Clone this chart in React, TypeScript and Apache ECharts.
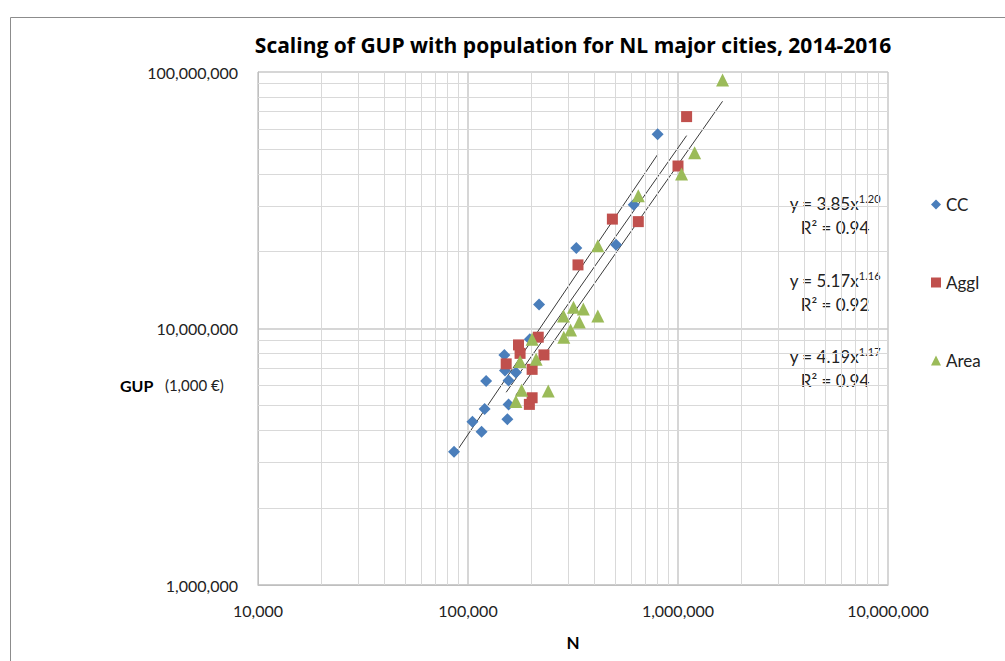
import React, { useEffect, useRef } from "react";
import * as echarts from "echarts";

// ---- data ----
const ccN = [85800, 105000, 116000, 120000, 122000, 149000, 150000, 154000, 156000, 156000, 169000, 197000, 218000, 328000, 507000, 615000, 800000];
const ccGUP = [3.31e6, 4.33e6, 3.96e6, 4.85e6, 6.24e6, 7.88e6, 6.86e6, 4.43e6, 5.06e6, 6.27e6, 6.73e6, 9.08e6, 12.4e6, 20.6e6, 21.2e6, 30.4e6, 57.2e6];

const agglN = [152000, 174000, 177000, 196000, 202000, 202000, 216000, 230000, 334000, 487000, 647000, 1000000, 1099000];
const agglGUP = [7.28e6, 8.63e6, 8.0e6, 5.06e6, 5.37e6, 6.93e6, 9.25e6, 7.89e6, 17.7e6, 26.7e6, 26.1e6, 43e6, 67e6];

const areaN = [169000, 177000, 180000, 202000, 211000, 241000, 285000, 286000, 308000, 318000, 339000, 354000, 415000, 415000, 647000, 1040000, 1200000, 1630000];
const areaGUP = [5.19e6, 7.43e6, 5.75e6, 9.08e6, 7.59e6, 5.7e6, 11.2e6, 9.25e6, 9.86e6, 12.1e6, 10.6e6, 11.9e6, 11.2e6, 21e6, 32.9e6, 40e6, 48.4e6, 93e6];

const seriesNames = ["CC", "Aggl", "Area"];
const eqBase = ["y = 3.85x", "y = 5.17x", "y = 4.19x"];
const eqExp = ["1.20", "1.16", "1.17"];
const eqR2 = ["R² = 0.94", "R² = 0.92", "R² = 0.94"];

const xMinorTicks = [2e4, 3e4, 4e4, 5e4, 6e4, 7e4, 8e4, 9e4, 2e5, 3e5, 4e5, 5e5, 6e5, 7e5, 8e5, 9e5, 2e6, 3e6, 4e6, 5e6, 6e6, 7e6, 8e6, 9e6];
const yMinorTicks = [2e6, 3e6, 4e6, 5e6, 6e6, 7e6, 8e6, 9e6, 2e7, 3e7, 4e7, 5e7, 6e7, 7e7, 8e7, 9e7];

const TITLE = "Scaling of GUP with population for NL major cities, 2014-2016";

const COLORS = ["#4A7EBB", "#C0504D", "#9BBB59"];
const FONT = "Lato, 'Open Sans', sans-serif";
const TITLE_FONT = "'Open Sans', Lato, sans-serif";

// power-law least-squares fit in log-log space (Excel power trendline)
function powerFit(xs: number[], ys: number[]) {
  const lx = xs.map(Math.log10);
  const ly = ys.map(Math.log10);
  const n = lx.length;
  const mx = lx.reduce((a, b) => a + b, 0) / n;
  const my = ly.reduce((a, b) => a + b, 0) / n;
  let sxy = 0, sxx = 0;
  for (let i = 0; i < n; i++) {
    sxy += (lx[i] - mx) * (ly[i] - my);
    sxx += (lx[i] - mx) * (lx[i] - mx);
  }
  const b = sxy / sxx;
  const a = my - b * mx;
  const x0 = Math.min(...xs);
  const x1 = Math.max(...xs);
  return [
    [x0, Math.pow(10, a + b * Math.log10(x0))],
    [x1, Math.pow(10, a + b * Math.log10(x1))],
  ];
}

const fmt = (v: number) => Math.round(v).toLocaleString("en-US");

export default function App() {
  const ref = useRef<HTMLDivElement>(null);
  useEffect(() => {
    if (!ref.current) return;
    const chart = echarts.init(ref.current, undefined, { renderer: "svg" });
    const sets = [
      [ccN, ccGUP],
      [agglN, agglGUP],
      [areaN, areaGUP],
    ];
    const symbols = ["diamond", "rect", "triangle"];
    const sizes = [12, 11, 13];

    const scatter = sets.map((s, i) => ({
      name: seriesNames[i],
      type: "scatter",
      symbol: symbols[i],
      symbolSize: sizes[i],
      itemStyle: { color: COLORS[i], opacity: 1 },
      z: 5,
      data: s[0].map((x, j) => [x, s[1][j]]),
    }));

    const trends = sets.map((s, i) => ({
      name: seriesNames[i] + " trend",
      type: "line",
      showSymbol: false,
      symbol: "none",
      silent: true,
      z: 4,
      lineStyle: { color: "#3a3a3a", width: 1 },
      data: powerFit(s[0], s[1]),
    }));

    const gridSeries = {
      name: "grid",
      type: "line",
      data: [],
      silent: true,
      z: 1,
      markLine: {
        silent: true,
        symbol: "none",
        label: { show: false },
        lineStyle: { color: "#d9d9d9", width: 1, type: "solid" },
        data: [
          ...xMinorTicks.map((v) => ({ xAxis: v })),
          ...yMinorTicks.map((v) => ({ yAxis: v })),
        ],
      },
    };

    const eqY = [203, 280, 356];
    const graphics: any[] = [
      {
        type: "rect",
        shape: { x: 10.5, y: 17.5, width: 1000, height: 700 },
        style: { fill: "none", stroke: "#8c8c8c", lineWidth: 1 },
        silent: true,
      },
      {
        type: "text",
        x: 120,
        y: 385,
        style: {
          text: "{b|GUP}{s|   (1,000 €)}",
          verticalAlign: "middle",
          rich: {
            b: { fontSize: 16, fontWeight: "bold", fontFamily: FONT, fill: "#000" },
            s: { fontSize: 15, fontFamily: FONT, fill: "#222" },
          },
        },
      },
    ];
    eqBase.forEach((t, i) => {
      graphics.push({
        type: "text",
        x: 835,
        y: eqY[i],
        style: {
          text: `{a|${t}}{s|${eqExp[i]}}`,
          align: "center",
          verticalAlign: "middle",
          rich: {
            a: { fontSize: 17, fontFamily: FONT, fill: "#222", lineHeight: 20 },
            s: { fontSize: 11, fontFamily: FONT, fill: "#222", lineHeight: 11, verticalAlign: "top" },
          },
        },
      });
      graphics.push({
        type: "text",
        x: 835,
        y: eqY[i] + 24,
        style: {
          text: eqR2[i],
          align: "center",
          verticalAlign: "middle",
          fontSize: 17,
          lineHeight: 20,
          fontFamily: FONT,
          fill: "#222",
        },
      });
    });

    chart.setOption({
      animation: false,
      backgroundColor: "#fff",
      title: {
        text: TITLE,
        left: 568,
        textAlign: "center",
        top: 29,
        textStyle: { fontSize: 21, fontWeight: "bold", fontFamily: TITLE_FONT, color: "#000" },
      },
      legend: {
        orient: "vertical",
        left: 926,
        top: 191,
        itemGap: 61,
        itemWidth: 10,
        itemHeight: 10,
        data: seriesNames.map((n, i) => ({ name: n, icon: symbols[i] })),
        textStyle: { fontSize: 17, fontFamily: FONT, color: "#222", lineHeight: 16 },
      },
      grid: { left: 258, right: 117, top: 72, bottom: 76, containLabel: false },
      xAxis: {
        type: "log",
        logBase: 10,
        min: 1e4,
        max: 1e7,
        name: "N",
        nameLocation: "middle",
        nameGap: 49,
        nameTextStyle: { fontSize: 17, fontWeight: "bold", fontFamily: FONT, color: "#000" },
        axisLine: { show: true, lineStyle: { color: "#bfbfbf" } },
        axisTick: { show: false },
        axisLabel: { fontSize: 16, fontFamily: FONT, color: "#222", margin: 17, formatter: fmt },
        splitLine: { show: true, lineStyle: { color: "#c8c8c8", width: 1.5 } },
      },
      yAxis: {
        type: "log",
        logBase: 10,
        min: 1e6,
        max: 1e8,
        axisLine: { show: true, lineStyle: { color: "#bfbfbf" } },
        axisTick: { show: false },
        axisLabel: { fontSize: 16, fontFamily: FONT, color: "#222", margin: 20, formatter: fmt },
        splitLine: { show: true, lineStyle: { color: "#c8c8c8", width: 1.5 } },
      },
      graphic: graphics,
      series: [gridSeries, ...trends, ...scatter],
    });
    return () => chart.dispose();
  }, []);
  return (
    <div
      ref={ref}
      style={{ position: "absolute", left: 0, top: 0, width: 1005, height: 661, background: "#fff" }}
    />
  );
}
